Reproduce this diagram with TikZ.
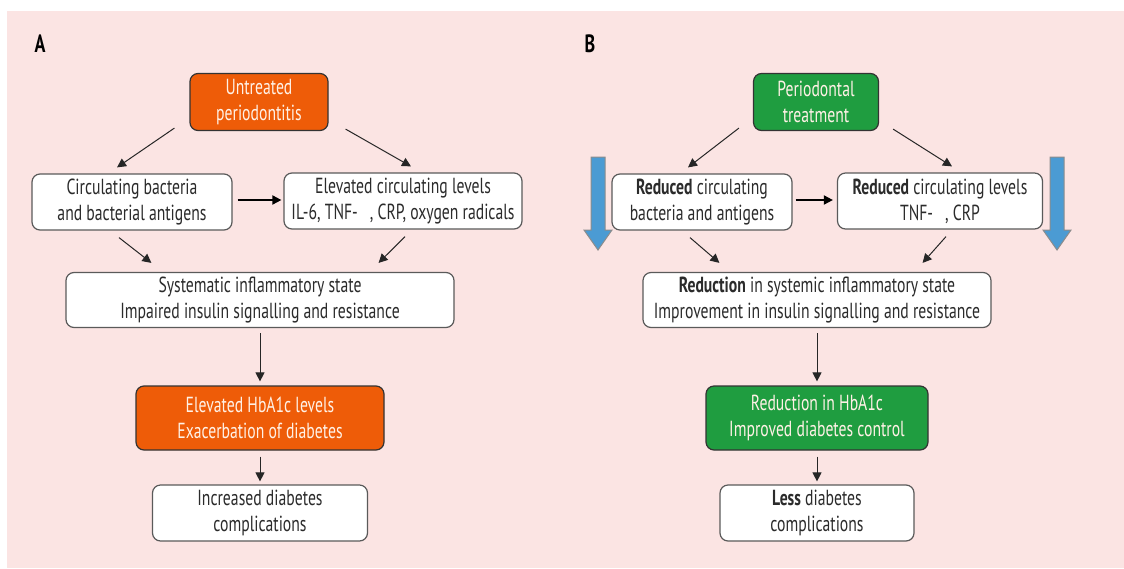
\documentclass[tikz,border=0pt]{standalone}
\usepackage{fontspec}
\setmainfont{PT Sans}[FakeStretch=0.72]
\usepackage{tikz}
\usetikzlibrary{arrows.meta,positioning}
\definecolor{pback}{HTML}{FBE4E3}
\definecolor{porange}{HTML}{EE5C08}
\definecolor{pgreen}{HTML}{1F9D40}
\definecolor{pblue}{HTML}{4B9BD3}
\definecolor{pedge}{HTML}{5A5A5A}
\definecolor{ptext}{HTML}{2B2B2B}
\definecolor{plight}{HTML}{FFF1E6}
\tikzset{
  box/.style={draw=pedge, fill=white, rounded corners=4pt, line width=0.6pt,
    align=center, text=ptext, inner sep=0pt,
    font=\fontsize{10.9}{13}\selectfont},
  hotbox/.style={box, draw=black!80, fill=porange, text=plight},
  goodbox/.style={box, draw=black!80, fill=pgreen, text=plight},
  flow/.style={-{Triangle[length=4.5pt,width=4.5pt]}, line width=0.5pt, draw=black!85},
  flowbold/.style={flow, line width=0.9pt, draw=black},
  bluearrow/.style={fill=pblue, draw=black!45, line width=0.5pt},
  panel/.style={font=\fontsize{12.5}{14}\selectfont\bfseries, text=black}
}
\begin{document}
\begin{tikzpicture}[x=0.5pt,y=-0.5pt]
 \useasboundingbox (0,0) rectangle (1124,568);
 \fill[white] (0,0) rectangle (1124,568);
 \fill[pback] (7,11) rectangle (1124,568);
 % panel A
 \node[panel] (labA) at (40,44) {A};
 \node[hotbox, minimum width=69pt, minimum height=28.5pt] (untr) at (259,102) {Untreated\\periodontitis};
 \node[box, minimum width=100pt, minimum height=28pt] (circ) at (132,202) {Circulating bacteria\\and bacterial antigens};
 \node[box, minimum width=119pt, minimum height=28pt] (elev) at (403,201) {Elevated circulating levels\\IL-6, TNF-\hspace{6pt}, CRP, oxygen radicals};
 \node[box, minimum width=194pt, minimum height=27.5pt] (syst) at (260,300) {Systematic inflammatory state\\Impaired insulin signalling and resistance};
 \node[hotbox, minimum width=124pt, minimum height=32pt] (hba) at (260,418) {Elevated HbA1c levels\\Exacerbation of diabetes};
 \node[box, minimum width=107.5pt, minimum height=28pt] (inc) at (260,513) {Increased diabetes\\complications};
 \draw[flow] ([shift={(-15,-3)}]untr.south west) -- ([shift={(-15,-6)}]circ.north);
 \draw[flow] ([shift={(17,-2)}]untr.south east) -- ([shift={(8,-6)}]elev.north);
 \draw[flowbold] ([shift={(5,-2)}]circ.east) -- ([shift={(-2,-2)}]circ.east -| elev.west);
 \draw[flow] ([shift={(-13,7)}]circ.south) -- ([shift={(86,-9)}]syst.north west);
 \draw[flow] ([shift={(2,7)}]elev.south) -- ([shift={(-76,-9)}]syst.north east);
 \draw[flow] ([shift={(0,5)}]syst.south) -- ([shift={(0,-4)}]hba.north);
 \draw[flow] ([shift={(0,6)}]hba.south) -- ([shift={(0,-3)}]inc.north);
 % panel B
 \node[panel] (labB) at (590,44) {B};
 \node[goodbox, minimum width=62.5pt, minimum height=28.5pt] (treat) at (816,102) {Periodontal\\treatment};
 \node[box, minimum width=90pt, minimum height=28pt] (redb) at (702,202) {\textbf{Reduced} circulating\\bacteria and antigens};
 \node[box, minimum width=102.5pt, minimum height=28pt] (redl) at (940,201) {\textbf{Reduced} circulating levels\\TNF-\hspace{6pt}, CRP};
 \node[box, minimum width=174pt, minimum height=27.5pt] (redsys) at (817,300) {\textbf{Reduction} in systemic inflammatory state\\Improvement in insulin signalling and resistance};
 \node[goodbox, minimum width=111pt, minimum height=32pt] (redh) at (817,418) {Reduction in HbA1c\\Improved diabetes control};
 \node[box, minimum width=97pt, minimum height=28pt] (less) at (817,513) {\textbf{Less} diabetes\\complications};
 \draw[flow] ([shift={(-14,-3)}]treat.south west) -- ([shift={(-14,-6)}]redb.north);
 \draw[flow] ([shift={(14,-2)}]treat.south east) -- ([shift={(12,-6)}]redl.north);
 \draw[flowbold] ([shift={(3,-2)}]redb.east) -- ([shift={(-4,-2)}]redb.east -| redl.west);
 \draw[flow] ([shift={(-12,7)}]redb.south) -- ([shift={(77,-9)}]redsys.north west);
 \draw[flow] ([shift={(6,7)}]redl.south) -- ([shift={(-69,-9)}]redsys.north east);
 \draw[flow] ([shift={(0,5)}]redsys.south) -- ([shift={(0,-4)}]redh.north);
 \draw[flow] ([shift={(0,6)}]redh.south) -- ([shift={(0,-3)}]less.north);
 % blue arrows
 \foreach \cx in {598,1057}
   \draw[bluearrow] (\cx-7,157) -- (\cx+7,157) -- (\cx+7,230) -- (\cx+14,230)
     -- (\cx,250) -- (\cx-14,230) -- (\cx-7,230) -- cycle;
\end{tikzpicture}
\end{document}
